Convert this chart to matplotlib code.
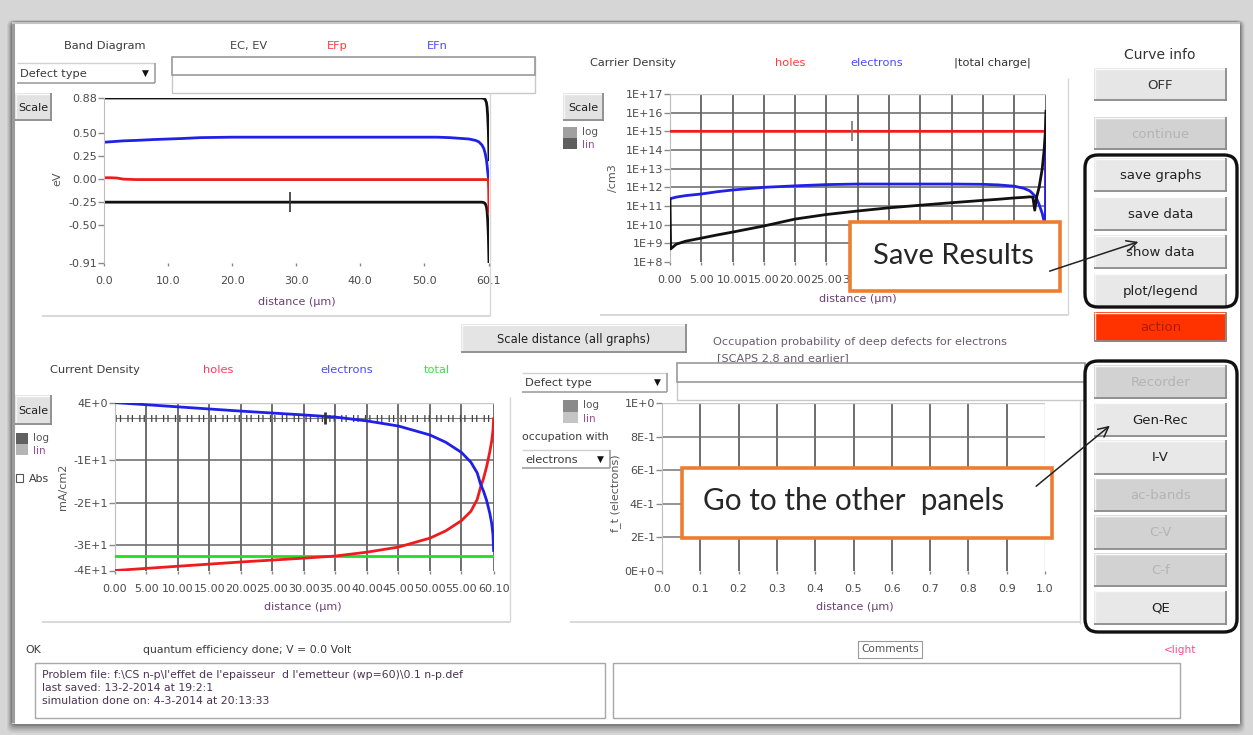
import matplotlib
matplotlib.use("Agg")
import matplotlib.pyplot as plt
from matplotlib.patches import Rectangle, FancyBboxPatch
from matplotlib.ticker import FixedLocator, FixedFormatter, NullLocator

W, H, DPI = 1253, 735, 100

# ---------------- data ----------------
# Band diagram (energies in eV vs distance in um)
band_x = [0, 1, 2, 3, 5, 8, 10, 12, 15, 20, 30, 40, 50, 52, 54, 56, 57, 58, 58.5,
          59.0, 59.3, 59.5, 59.7, 59.8, 59.9, 60.0, 60.05, 60.1]
band_ec = [0.88] * 20 + [0.875, 0.865, 0.83, 0.78, 0.68, 0.52, 0.38, 0.21]
band_ev = [-0.25] * 20 + [-0.255, -0.265, -0.30, -0.35, -0.45, -0.61, -0.75, -0.91]
band_efn = [0.40, 0.405, 0.41, 0.415, 0.42, 0.43, 0.435, 0.44, 0.45, 0.455, 0.455, 0.455,
            0.455, 0.455, 0.45, 0.44, 0.435, 0.42, 0.405, 0.37, 0.33, 0.28, 0.21, 0.15,
            0.08, 0.02, 0.005, 0.0]
band_efp = [0.015, 0.015, 0.012, 0.0] + [-0.005] * 21 + [-0.01, -0.12, -0.36]
band_xticks = [0, 10, 20, 30, 40, 50, 60.1]
band_xlabels = ["0.0", "10.0", "20.0", "30.0", "40.0", "50.0", "60.1"]
band_yticks = [0.88, 0.50, 0.25, 0.00, -0.25, -0.50, -0.91]
band_ylabels = ["0.88", "0.50", "0.25", "0.00", "-0.25", "-0.50", "-0.91"]

# Carrier density (/cm3)
dens_x = [0, 0.1, 1, 2.5, 5, 7.5, 10, 15, 20, 25, 30, 35, 40, 45, 50, 52.5, 55, 56.5,
          57.5, 58.0, 58.3, 58.6, 59.0, 59.5, 59.8, 60.0, 60.05, 60.1]
dens_holes = [1e15] * 26 + [1e13, 1e10]
dens_electrons = [2.4e11, 2.5e11, 3e11, 3.6e11, 4.4e11, 5.8e11, 7.2e11, 1e12, 1.2e12,
                  1.4e12, 1.5e12, 1.5e12, 1.5e12, 1.5e12, 1.45e12, 1.35e12, 1.15e12,
                  9e11, 6.5e11, 4.5e11, 3.5e11, 2.5e11, 1.2e11, 4e10, 1.5e10, 8e9,
                  1e13, 8e14]
dens_charge = [2.2e11, 5e8, 9e8, 1.3e9, 1.9e9, 2.8e9, 4e9, 8.5e9, 2e10, 3.5e10, 5.4e10,
               8e10, 1.1e11, 1.5e11, 2e11, 2.3e11, 2.7e11, 2.9e11, 3.1e11, 3e11, 6e10,
               3e11, 1e12, 1e13, 1e14, 1e15, 5e15, 1.2e16]
dens_xticks = [0, 5, 10, 15, 20, 25, 30, 35, 40, 45, 50, 55, 60.1]
dens_xlabels = ["0.00", "5.00", "10.00", "15.00", "20.00", "25.00", "30.00", "35.00",
                "40.00", "45.00", "50.00", "55.00", "60.10"]
dens_yticks = [1e8, 1e9, 1e10, 1e11, 1e12, 1e13, 1e14, 1e15, 1e16, 1e17]
dens_ylabels = ["1E+8", "1E+9", "1E+10", "1E+11", "1E+12", "1E+13", "1E+14", "1E+15",
                "1E+16", "1E+17"]

# Current density (mA/cm2)
cur_x = [0, 10, 20, 30, 35, 40, 45, 50, 52.5, 55, 56.5, 57.5, 58.0, 58.5, 59.0, 59.5,
         59.8, 60.0, 60.1]
cur_electrons = [3.5, 2.5, 1.5, 0.6, 0.1, -0.8, -2.0, -4.1, -5.8, -8.2, -10.5, -13.0,
                 -15.5, -17.3, -19.5, -22.5, -24.9, -27.5, -31.2]
cur_holes = [-35.9, -34.9, -33.9, -33.0, -32.5, -31.6, -30.4, -28.3, -26.6, -24.2, -22.0,
             -19.2, -16.5, -14.3, -11.5, -8.0, -5.5, -3.0, -0.3]
cur_total = [-32.4] * len(cur_x)
cur_xticks = [0, 5, 10, 15, 20, 25, 30, 35, 40, 45, 50, 55, 60.1]
cur_xlabels = ["0.00", "5.00", "10.00", "15.00", "20.00", "25.00", "30.00", "35.00",
               "40.00", "45.00", "50.00", "55.00", "60.10"]
cur_yticks = [3.5, -10, -20, -30, -35.9]
cur_ylabels = ["4E+0", "-1E+1", "-2E+1", "-3E+1", "-4E+1"]

# Occupation probability (empty graph)
occ_xticks = [0.0, 0.1, 0.2, 0.3, 0.4, 0.5, 0.6, 0.7, 0.8, 0.9, 1.0]
occ_xlabels = ["0.0", "0.1", "0.2", "0.3", "0.4", "0.5", "0.6", "0.7", "0.8", "0.9", "1.0"]
occ_yticks = [0.0, 0.2, 0.4, 0.6, 0.8, 1.0]
occ_ylabels = ["0E+0", "2E-1", "4E-1", "6E-1", "8E-1", "1E+0"]

# cursor crosses (x, y)
band_cursor = (29.0, -0.25)
dens_cursor = (29.1, 1e15)
cur_cursor = (33.3, 0.0)

# right-hand button column: (label, enabled)
group1_buttons = [("save graphs", True), ("save data", True), ("show data", True),
                  ("plot/legend", True)]
group2_buttons = [("Recorder", False), ("Gen-Rec", True), ("I-V", True),
                  ("ac-bands", False), ("C-V", False), ("C-f", False), ("QE", True)]

status_lines = [
    "Problem file: f:\\CS n-p\\l'effet de l'epaisseur  d l'emetteur (wp=60)\\0.1 n-p.def",
    "last saved: 13-2-2014 at 19:2:1",
    "simulation done on: 4-3-2014 at 20:13:33",
]

# ---------------- colours / styles ----------------
BLACK, RED, BLUE, GREEN = "#111111", "#ee1c1c", "#2020e6", "#22dd22"
TXT = "#3a3a3a"
PURPLE = "#6a3f72"
GRID = "#555555"
ORANGE = "#ED7D31"
FS = 8.2
TICK_FS = 8

fig = plt.figure(figsize=(W / DPI, H / DPI), dpi=DPI)
fig.patch.set_facecolor("#d6d6d6")

bg = fig.add_axes([0, 0, 1, 1], zorder=0)
bg.set_xlim(0, W)
bg.set_ylim(H, 0)
bg.axis("off")

ov = fig.add_axes([0, 0, 1, 1], zorder=20)
ov.set_xlim(0, W)
ov.set_ylim(H, 0)
ov.axis("off")


def rect(ax, x0, y0, x1, y1, fc="none", ec="none", lw=1.0, z=1, **kw):
    ax.add_patch(Rectangle((x0, y0), x1 - x0, y1 - y0, facecolor=fc, edgecolor=ec,
                           linewidth=lw, zorder=z, **kw))


def hline(ax, x0, x1, y, color, lw=1.0, z=2):
    ax.plot([x0, x1], [y, y], color=color, lw=lw, zorder=z, solid_capstyle="butt")


def vline(ax, x, y0, y1, color, lw=1.0, z=2):
    ax.plot([x, x], [y0, y1], color=color, lw=lw, zorder=z, solid_capstyle="butt")


def button(ax, x0, y0, x1, y1, label, enabled=True, face=None, tcolor=None, fs=9.5):
    face = face or ("#e8e8e8" if enabled else "#d2d2d2")
    tcolor = tcolor or ("#202020" if enabled else "#b4b4b4")
    rect(ax, x0, y0, x1, y1, fc=face, z=3)
    hline(ax, x0, x1, y0 + 0.5, "#fbfbfb", 1.0, 4)
    vline(ax, x0 + 0.5, y0, y1, "#f4f4f4", 1.0, 4)
    hline(ax, x0, x1, y1 - 0.7, "#8c8c8c", 1.3, 4)
    vline(ax, x1 - 0.7, y0, y1, "#8c8c8c", 1.3, 4)
    ax.text((x0 + x1) / 2, (y0 + y1) / 2 + 0.5, label, ha="center", va="center",
            fontsize=fs, color=tcolor, zorder=5)


def dropdown(ax, x0, y0, x1, y1, label):
    rect(ax, x0, y0, x1, y1, fc="white", z=3)
    hline(ax, x0, x1, y0, "#d0d0d0", 1.0, 4)
    hline(ax, x0, x1, y1, "#a0a0a0", 1.2, 4)
    vline(ax, x1, y0, y1, "#a0a0a0", 1.2, 4)
    ax.text(x0 + 3, (y0 + y1) / 2 + 0.5, label, ha="left", va="center", fontsize=FS,
            color=TXT, zorder=5)
    ax.text(x1 - 10, (y0 + y1) / 2, "\u25BC", ha="center", va="center", fontsize=6.5,
            color="#111111", zorder=5)


def toggle(ax, x0, y0, x1, y1, top, bottom):
    ym = (y0 + y1) / 2
    rect(ax, x0, y0, x1, ym, fc=top, z=3)
    rect(ax, x0, ym, x1, y1, fc=bottom, z=3)
    ax.text(x1 + 5, y0 + 5, "log", ha="left", va="center", fontsize=7.5, color="#555555",
            zorder=5)
    ax.text(x1 + 5, y1 - 4, "lin", ha="left", va="center", fontsize=7.5, color="#9a4a9a",
            zorder=5)


def header_box(ax, x0, y0, x1, ymid, y1):
    rect(ax, x0, y0, x1, y1, fc="white", ec="#c8c8c8", lw=1.0, z=2)
    rect(ax, x0, y0, x1, ymid, fc="white", ec="#9a9a9a", lw=1.2, z=3)


# ---------------- window frame ----------------
for i, a in enumerate([0.05, 0.07, 0.09, 0.12, 0.16]):
    off = 5 - i
    bg.add_patch(FancyBboxPatch((12 - off, 22 - off * 0.4), 1228 + 2 * off,
                                702 + off * 2.2, boxstyle="round,pad=0,rounding_size=6",
                                facecolor="black", edgecolor="none", alpha=a, zorder=0.2))
rect(bg, 12, 22, 1240, 724, fc="white", z=0.5)
vline(bg, 12.5, 22, 723, "#9c9c9c", 2.2, 1)
hline(bg, 12, 1240, 22.5, "#c4c4c4", 1.5, 1)

# ---------------- band diagram panel ----------------
bg.text(105, 46, "Band Diagram", ha="center", va="center", fontsize=FS, color=TXT)
bg.text(249, 46, "EC, EV", ha="center", va="center", fontsize=FS, color="#444444")
bg.text(337, 46, "EFp", ha="center", va="center", fontsize=FS, color="#ff3a3a")
bg.text(437, 46, "EFn", ha="center", va="center", fontsize=FS, color="#4a4aff")
dropdown(bg, 17, 63, 155, 83, "Defect type")
header_box(bg, 172, 57, 535, 75, 93)
button(bg, 15, 93, 52, 121, "Scale", face="#e2e2e2", fs=8)
hline(bg, 42, 490, 316, "#d2d2d2", 1.2)
vline(bg, 490, 93, 316, "#d8d8d8", 1.0)

# ---------------- carrier density panel ----------------
bg.text(633, 63, "Carrier Density", ha="center", va="center", fontsize=FS, color=TXT)
bg.text(790, 63, "holes", ha="center", va="center", fontsize=FS, color="#ff3a3a")
bg.text(877, 63, "electrons", ha="center", va="center", fontsize=FS, color="#4a4aff")
bg.text(992, 63, "|total charge|", ha="center", va="center", fontsize=FS, color="#333333")
button(bg, 563, 93, 604, 121, "Scale", face="#e2e2e2", fs=8)
toggle(bg, 563, 127, 577, 149, "#a0a0a0", "#5e5e5e")
hline(bg, 600, 1068, 315, "#d2d2d2", 1.2)
vline(bg, 1068, 78, 315, "#d8d8d8", 1.0)

# ---------------- current density panel ----------------
button(bg, 461, 324, 687, 353, "Scale distance (all graphs)", face="#e4e4e4", fs=8.3)
bg.text(95, 370, "Current Density", ha="center", va="center", fontsize=FS, color=TXT)
bg.text(218, 370, "holes", ha="center", va="center", fontsize=FS, color="#ff3a5a")
bg.text(347, 370, "electrons", ha="center", va="center", fontsize=FS, color="#4a4aff")
bg.text(437, 370, "total", ha="center", va="center", fontsize=FS, color="#44dd44")
button(bg, 15, 395, 52, 425, "Scale", face="#e2e2e2", fs=8)
toggle(bg, 16, 433, 28, 455, "#606060", "#b4b4b4")
rect(bg, 16, 474, 23, 482, fc="white", ec="#555555", lw=0.8, z=3)
bg.text(29, 479, "Abs", ha="left", va="center", fontsize=7.8, color=TXT)
hline(bg, 42, 510, 622, "#d2d2d2", 1.2)
vline(bg, 510, 397, 622, "#d8d8d8", 1.0)

# ---------------- occupation panel ----------------
bg.text(713, 342, "Occupation probability of deep defects for electrons", ha="left",
        va="center", fontsize=8.1, color="#6a5a70")
bg.text(717, 358, "[SCAPS 2.8 and earlier]", ha="left", va="center", fontsize=8.1,
        color="#6a5a70")
hline(bg, 717, 838, 365, "#8a7a90", 0.8)
dropdown(bg, 522, 373, 667, 392, "Defect type")
header_box(bg, 677, 363, 1085, 382, 400)
toggle(bg, 563, 400, 578, 423, "#8a8a8a", "#c4c4c4")
bg.text(522, 437, "occupation with", ha="left", va="center", fontsize=7.8, color=TXT)
dropdown(bg, 522, 450, 610, 468, "electrons")
hline(bg, 570, 1080, 622, "#d2d2d2", 1.2)
vline(bg, 1080, 400, 624, "#d8d8d8", 1.0)

# ---------------- bottom status area ----------------
bg.text(25, 650, "OK", ha="left", va="center", fontsize=7.8, color=TXT)
bg.text(143, 650, "quantum efficiency done; V = 0.0 Volt", ha="left", va="center",
        fontsize=7.8, color=TXT)
rect(bg, 35, 663, 605, 718, fc="white", ec="#a8a8a8", lw=1.0, z=2)
for k, line in enumerate(status_lines):
    bg.text(42, 675 + k * 13, line, ha="left", va="center", fontsize=7.8, color="#4a3352")
rect(bg, 858, 641, 922, 658, fc="white", ec="#9a9a9a", lw=0.8, z=2)
bg.text(890, 649.5, "Comments", ha="center", va="center", fontsize=7.6, color="#555555")
bg.text(1180, 650, "<light", ha="center", va="center", fontsize=7.6, color="#ff4a8a")
rect(bg, 613, 663, 1180, 718, fc="white", ec="#a8a8a8", lw=1.0, z=2)

# ---------------- right-hand buttons ----------------
bg.text(1160, 55, "Curve info", ha="center", va="center", fontsize=10, color="#333333")
button(bg, 1094, 68, 1227, 101, "OFF", face="#e6e6e6", tcolor="#333333")
button(bg, 1094, 117, 1227, 150, "continue", enabled=False)
for k, (lab, en) in enumerate(group1_buttons):
    y0 = 158 + k * 38.5
    button(bg, 1094, y0, 1227, y0 + 34, lab, enabled=en)
button(bg, 1094, 312, 1227, 342, "action", face="#ff3300", tcolor="#b01a00")
for k, (lab, en) in enumerate(group2_buttons):
    y0 = 365 + k * 37.6
    button(bg, 1094, y0, 1227, y0 + 34, lab, enabled=en)
for (y0, y1) in [(155, 307), (361, 632)]:
    ov.add_patch(FancyBboxPatch((1085, y0), 152, y1 - y0,
                                boxstyle="round,pad=0,rounding_size=13", facecolor="none",
                                edgecolor="#111111", linewidth=2.4, zorder=6))


# ---------------- plot axes ----------------
def px_axes(x0, y0, x1, y1):
    ax = fig.add_axes([x0 / W, 1 - y1 / H, (x1 - x0) / W, (y1 - y0) / H], zorder=5)
    ax.set_facecolor("none")
    for s in ["top", "right", "bottom"]:
        ax.spines[s].set_visible(False)
    ax.spines["left"].set_color("#bdbdbd")
    ax.tick_params(axis="y", direction="out", length=4, width=1, color="#8a8a8a", pad=1,
                   labelsize=TICK_FS, labelcolor="#4a4a4a")
    ax.tick_params(axis="x", direction="out", length=2.5, width=1, color="#8a8a8a", pad=7,
                   labelsize=TICK_FS, labelcolor="#4a4a4a")
    return ax


def set_ticks(ax, xt, xl, yt, yl):
    ax.xaxis.set_major_locator(FixedLocator(xt))
    ax.xaxis.set_major_formatter(FixedFormatter(xl))
    ax.yaxis.set_major_locator(FixedLocator(yt))
    ax.yaxis.set_major_formatter(FixedFormatter(yl))
    ax.xaxis.set_minor_locator(NullLocator())
    ax.yaxis.set_minor_locator(NullLocator())


def place_labels(ax, box, xlab, xpos, ylab, ypos):
    x0, y0, x1, y1 = box
    ax.set_xlabel(xlab, fontsize=8, color=PURPLE)
    ax.set_ylabel(ylab, fontsize=8, color="#555555")
    ax.xaxis.label.set_va("center")
    ax.yaxis.label.set_va("center")
    ax.xaxis.set_label_coords((xpos[0] - x0) / (x1 - x0), (y1 - xpos[1]) / (y1 - y0))
    ax.yaxis.set_label_coords((ypos[0] - x0) / (x1 - x0), (y1 - ypos[1]) / (y1 - y0))


# Band diagram
box = (104, 98, 489, 263)
ax1 = px_axes(*box)
ax1.plot(band_x, band_ec, color=BLACK, lw=2.0)
ax1.plot(band_x, band_ev, color=BLACK, lw=2.0)
ax1.plot(band_x, band_efn, color=BLUE, lw=2.0)
ax1.plot(band_x, band_efp, color=RED, lw=2.0)
ax1.plot([band_cursor[0]], [band_cursor[1]], marker="|", ms=14, mew=1.2, color="#333333")
ax1.set_xlim(0, 60.1)
ax1.set_ylim(-0.91, 0.88)
set_ticks(ax1, band_xticks, band_xlabels, band_yticks, band_ylabels)
place_labels(ax1, box, "distance (\u00b5m)", (297, 302), "eV", (57, 179))

# Carrier density
box = (670, 94, 1046, 262)
ax2 = px_axes(*box)
ax2.set_yscale("log")
ax2.set_xlim(0, 60.1)
ax2.set_ylim(1e8, 1e17)
for xv in dens_xticks[1:]:
    ax2.axvline(xv, color=GRID, lw=1.2, zorder=1)
for yv in dens_yticks[1:-1]:
    ax2.axhline(yv, color="#666666", lw=1.1, zorder=1)
ax2.axhline(dens_yticks[-1], color="#c8c8c8", lw=1.0, zorder=1)
ax2.plot(dens_x, dens_holes, color=RED, lw=2.0, zorder=3)
ax2.plot(dens_x, dens_electrons, color=BLUE, lw=2.0, zorder=3)
ax2.plot(dens_x, dens_charge, color=BLACK, lw=2.0, zorder=3)
ax2.plot([dens_cursor[0]], [dens_cursor[1]], marker="|", ms=14, mew=1.2, color="#777777",
         zorder=4)
set_ticks(ax2, dens_xticks, dens_xlabels, dens_yticks, dens_ylabels)
place_labels(ax2, box, "distance (\u00b5m)", (858, 299), "/cm3", (613, 178))

# Current density
box = (115, 402.6, 493.6, 570.5)
ax3 = px_axes(*box)
ax3.set_xlim(0, 60.1)
ax3.set_ylim(-35.9, 3.5)
for xv in cur_xticks[1:]:
    ax3.axvline(xv, color=GRID, lw=1.2, zorder=1)
for yv in cur_yticks[1:4]:
    ax3.axhline(yv, color="#666666", lw=1.1, zorder=1)
ax3.axhline(cur_yticks[0], color="#c8c8c8", lw=1.0, zorder=1)
ax3.axhline(0, color="#777777", lw=0.8, zorder=1)
ax3.axhline(0, color="#444444", lw=5.0, ls=(0, (0.18, 0.45, 0.18, 0.9)), zorder=1)
ax3.plot(cur_x, cur_total, color=GREEN, lw=2.0, zorder=3)
ax3.plot(cur_x, cur_holes, color=RED, lw=2.0, zorder=3)
ax3.plot(cur_x, cur_electrons, color=BLUE, lw=2.0, zorder=3)
ax3.plot([cur_cursor[0]], [cur_cursor[1]], marker="|", ms=8, mew=2, color="#333333",
         zorder=4)
set_ticks(ax3, cur_xticks, cur_xlabels, cur_yticks, cur_ylabels)
place_labels(ax3, box, "distance (\u00b5m)", (303, 607), "mA/cm2", (63, 487))

# Occupation probability
box = (662, 403, 1045, 571)
ax4 = px_axes(*box)
ax4.set_xlim(0, 1.0)
ax4.set_ylim(0, 1.0)
for xv in occ_xticks[1:-1]:
    ax4.axvline(xv, color=GRID, lw=1.2, zorder=1)
ax4.axvline(occ_xticks[-1], color="#c8c8c8", lw=1.0, zorder=1)
for yv in occ_yticks[1:-1]:
    ax4.axhline(yv, color="#777777", lw=1.1, zorder=1)
ax4.axhline(occ_yticks[-1], color="#c8c8c8", lw=1.0, zorder=1)
set_ticks(ax4, occ_xticks, occ_xlabels, occ_yticks, occ_ylabels)
place_labels(ax4, box, "distance (\u00b5m)", (855, 607), "f_t (electrons)", (616, 493))

# ---------------- callouts ----------------
rect(ov, 850, 222, 1060, 291, fc="white", ec=ORANGE, lw=2.6, z=3)
ov.text(873, 256, "Save Results", ha="left", va="center", fontsize=21,
        family="Lato", color="#262626", zorder=4)
rect(ov, 682, 468, 1052, 538, fc="white", ec=ORANGE, lw=2.6, z=3)
ov.text(703, 501, "Go to the other  panels", ha="left", va="center", fontsize=21.3,
        family="Lato", color="#262626", zorder=4)
ov.annotate("", xy=(1141, 241), xytext=(1047, 272),
            arrowprops=dict(arrowstyle="->", lw=1.1, color="#222222", mutation_scale=18),
            zorder=8)
ov.annotate("", xy=(1112, 424), xytext=(1034, 488),
            arrowprops=dict(arrowstyle="->", lw=1.1, color="#222222", mutation_scale=18),
            zorder=8)

fig.savefig("out.png", dpi=DPI, facecolor=fig.get_facecolor())
